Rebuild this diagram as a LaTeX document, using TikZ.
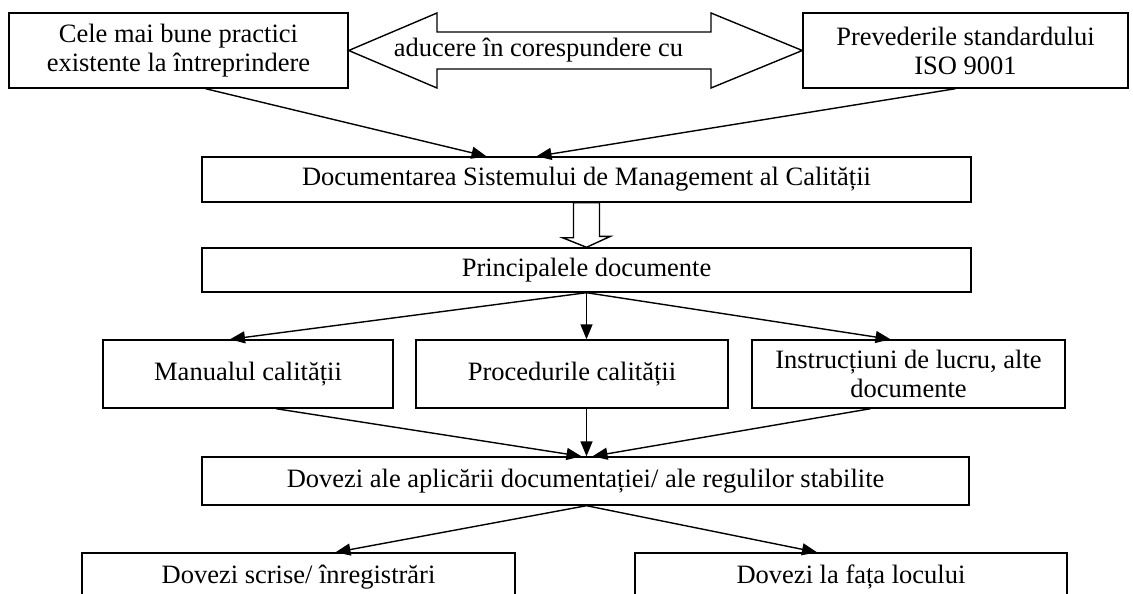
\documentclass[tikz,border=0pt]{standalone}
\usepackage{fontspec}
\setmainfont{Liberation Serif}
\usetikzlibrary{arrows.meta, calc}

\begin{document}
\begin{tikzpicture}[x=1pt, y=-1pt, line width=1.4pt,
  box/.style={draw, inner sep=0pt, align=center, font=\fontsize{26.5}{29}\selectfont},
  arr/.style={-{Triangle[length=15pt, width=12pt]}}]
  \useasboundingbox (0,0) rectangle (1133,594);
  \clip (0,0) rectangle (1133,594);

  % Top boxes
  \node[box, minimum width=339pt, minimum height=75pt] (practici) at (178.5,50.5)
    {Cele mai bune practici\\existente la întreprindere};
  \node[box, minimum width=325pt, minimum height=75pt] (standard) at (965.5,50.5)
    {Prevederile standardului\\ISO 9001};

  % Double arrow between them
  \draw[fill=white] (practici.east) -- (437,13) -- (437,32) -- (711,32) -- (711,13)
    -- (standard.west) -- (711,88) -- (711,69) -- (437,69) -- (437,88) -- cycle;
  \node[font=\fontsize{26.5}{29}\selectfont, inner sep=0pt] (aducere) at (538.5,50.5)
    {aducere în corespundere cu};

  % Documentation
  \node[box, minimum width=769pt, minimum height=45pt] (doc) at (586.5,179.5)
    {Documentarea Sistemului de Management al Calității};
  \node[box, minimum width=769pt, minimum height=44pt] (princ) at (586.5,270)
    {Principalele documente};

  % Hollow arrow
  \draw[fill=white] ($(doc.south)+(-13,0)$) -- ++(0,35) -- ++(-11,0)
    -- (princ.north) -- ($(princ.north)+(24,-11)$) -- ++(-11,0) -- ($(doc.south)+(13,0)$) -- cycle;

  % Main documents
  \node[box, minimum width=290pt, minimum height=68pt] (manual) at (248,374)
    {Manualul calității};
  \node[box, minimum width=312pt, minimum height=68pt] (proc) at (572,374)
    {Procedurile calității};
  \node[box, minimum width=313pt, minimum height=68pt] (instr) at (908.5,374)
    {Instrucțiuni de lucru, alte\\documente};

  % Evidence
  \node[box, minimum width=767pt, minimum height=48pt] (dovezi) at (585.5,481)
    {Dovezi ale aplicării documentației/ ale regulilor stabilite};
  \node[box, minimum width=433pt, minimum height=48pt] (scrise) at (298.5,577)
    {Dovezi scrise/ înregistrări};
  \node[box, minimum width=432pt, minimum height=48pt] (fata) at (851,577)
    {Dovezi la fața locului};

  % Connectors
  \draw[arr] ($(practici.south)+(27,0)$) -- ($(doc.north)+(-100,0)$);
  \draw[arr] ($(standard.south)+(-10,0)$) -- ($(doc.north)+(-50,0)$);

  \draw[arr] (princ.south) -- ($(manual.north)+(-18,0)$);
  \draw[arr] (princ.south) -- (princ.south |- proc.north);
  \draw[arr] (princ.south) -- ($(instr.north)+(-18,0)$);

  \draw[arr] ($(manual.south)+(28,0)$) -- ($(dovezi.north)+(-4,0)$);
  \draw[arr] (princ.south |- proc.south) -- (princ.south |- dovezi.north);
  \draw[arr] ($(instr.south)+(-38,0)$) -- ($(dovezi.north)+(7,0)$);

  \draw[arr] (princ.south |- dovezi.south) -- ($(scrise.north)+(37,0)$);
  \draw[arr] (princ.south |- dovezi.south) -- ($(fata.north)+(-34,0)$);
\end{tikzpicture}
\end{document}
